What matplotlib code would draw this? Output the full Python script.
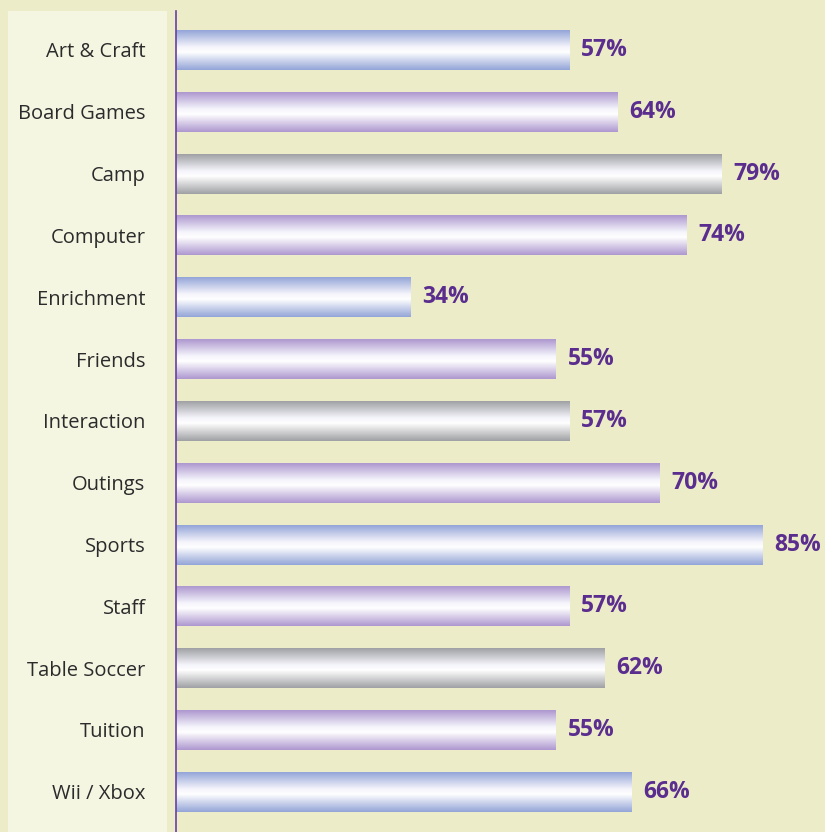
import matplotlib

matplotlib.use("Agg")
import matplotlib.pyplot as plt
import numpy as np
from matplotlib.colors import LinearSegmentedColormap
from matplotlib.patches import Rectangle


categories = [
    "Art & Craft", "Board Games", "Camp", "Computer", "Enrichment", "Friends",
    "Interaction", "Outings", "Sports", "Staff", "Table Soccer", "Tuition", "Wii / Xbox",
]
values = [57, 64, 79, 74, 34, 55, 57, 70, 85, 57, 62, 55, 66]
bar_styles = ["blue", "purple", "gray", "purple"] * 3 + ["blue"]

BG = "#ecedc8"
PANEL = "#f5f6e2"
EDGE_COLORS = {"blue": "#93a4d7", "purple": "#ad97cf", "gray": "#9fa0a3"}


def gradient_cmap(edge):
    return LinearSegmentedColormap.from_list(
        edge, [(0.0, edge), (0.42, "#f4f4fb"), (0.55, "#ffffff"), (1.0, edge)]
    )


def main() -> None:
    plt.rcParams["font.family"] = ["Open Sans", "DejaVu Sans"]
    fig = plt.figure(figsize=(8.25, 8.32), dpi=100, facecolor=BG)
    W, H = 825, 832

    fig.patches.append(
        Rectangle((8 / W, 0), (167 - 8) / W, (H - 11) / H,
                  transform=fig.transFigure, facecolor=PANEL, edgecolor="none", zorder=-5)
    )

    ax = fig.add_axes([176 / W, 0, (W - 176) / W, (H - 11) / H])
    ax.set_facecolor("none")

    y = np.arange(len(categories))
    height = 0.647
    bars = ax.barh(y, values, height=height, color="none", edgecolor="none")
    grad = np.linspace(0, 1, 256).reshape(-1, 1)
    for bar, style in zip(bars, bar_styles):
        x0, y0 = bar.get_x(), bar.get_y()
        im = ax.imshow(
            grad, cmap=gradient_cmap(EDGE_COLORS[style]), aspect="auto",
            extent=[x0, x0 + bar.get_width(), y0 + bar.get_height(), y0],
            interpolation="bilinear", zorder=2,
        )
        im.set_clip_path(bar)

    for yi, v in zip(y, values):
        ax.text(v + 1.7, yi, f"{v}%", va="center", ha="left", fontsize=16.5,
                fontweight="bold", color="#5a2d8e", zorder=3)

    ax.set_xlim(0, 94)
    ax.set_ylim(12.65, -0.63)
    ax.set_yticks(y, categories)
    ax.tick_params(axis="y", length=0, pad=22, labelsize=14.5, labelcolor="#2b2b2b")
    ax.set_xticks([])
    for side in ("top", "right", "bottom"):
        ax.spines[side].set_visible(False)
    ax.spines["left"].set_color("#6a3fa3")
    ax.spines["left"].set_linewidth(1.2)

    fig.savefig("out.png", dpi=100, facecolor=BG)
    plt.close(fig)


if __name__ == "__main__":
    main()
